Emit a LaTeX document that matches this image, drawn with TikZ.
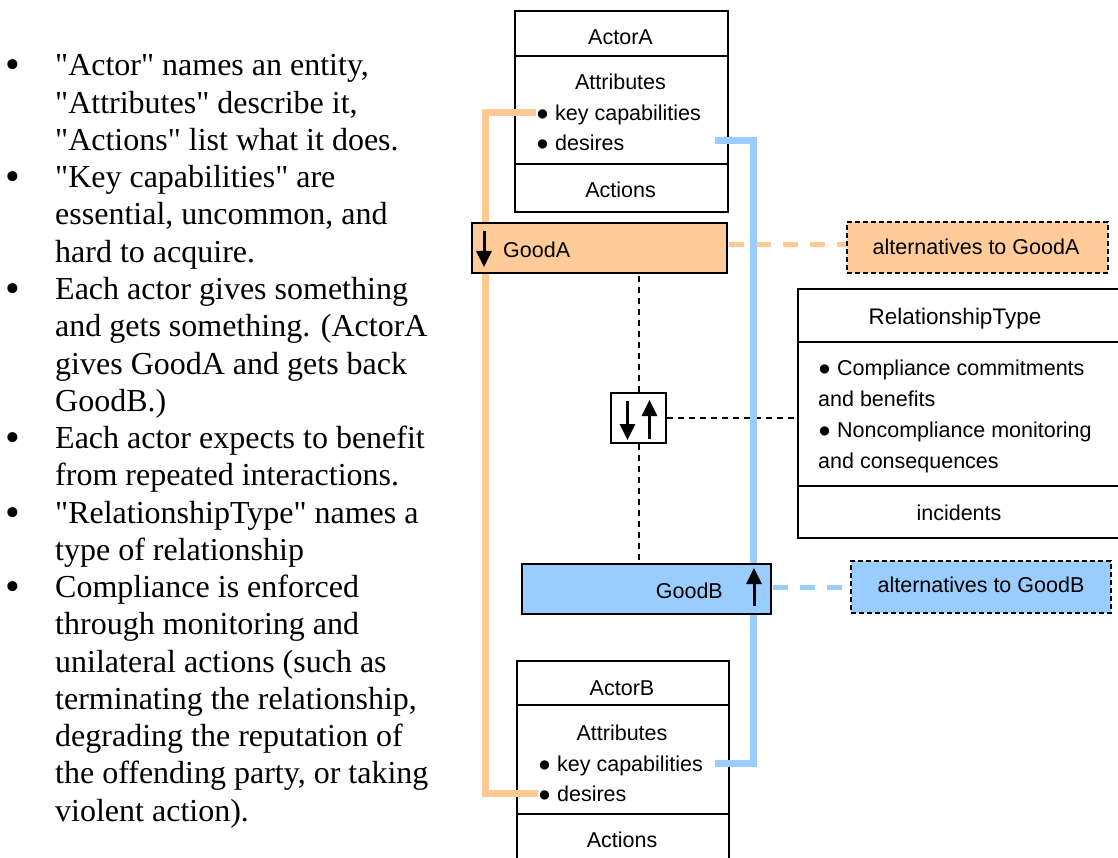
\documentclass[tikz,border=0pt]{standalone}
\usepackage{fontspec}
\setmainfont{Liberation Serif}[Ligatures=TeXOff]
\setsansfont{Liberation Sans}[Ligatures=TeXOff]
\usetikzlibrary{arrows.meta}
\definecolor{orng}{HTML}{FFCC99}
\definecolor{orngline}{HTML}{FFC993}
\definecolor{blu}{HTML}{99CCFF}
\begin{document}
\begin{tikzpicture}[x=1pt,y=-1pt,
  ltxt/.style={font=\fontsize{32}{37}\selectfont, anchor=base west, inner sep=0},
  lbul/.style={font=\fontsize{42}{37}\selectfont, anchor=base, inner sep=0},
  cell/.style={draw, line width=2pt, anchor=north west, inner sep=0},
  dtxt/.style={font=\sffamily\fontsize{21.5}{30}\selectfont, anchor=base, inner sep=0},
  dltxt/.style={dtxt, anchor=base west},
  rtxt/.style={font=\sffamily\fontsize{21.5}{31}\selectfont, anchor=base west, inner sep=0},
  goodbox/.style={draw, line width=2pt, anchor=north west, inner sep=0},
  altbox/.style={draw, line width=2pt, dash pattern=on 5pt off 3pt, anchor=north west, inner sep=0},
  blkdash/.style={draw, line width=2pt, dash pattern=on 6pt off 5pt},
  orngpath/.style={draw=orngline, line width=7pt},
  blupath/.style={draw=blu, line width=7pt},
  orngdash/.style={draw=orngline, line width=5pt, dash pattern=on 15pt off 12pt},
  bludash/.style={draw=blu, line width=5pt, dash pattern=on 15pt off 12pt},
  icon/.style={line width=3pt, -{Triangle[length=16pt,width=15pt]}}
]
\useasboundingbox (0,0) rectangle (1118,858);

% ---------- left text ----------
\node[lbul] (b1) at (13,79) {\textbullet};
\node[ltxt] (l1) at (55,76) {"Actor" names an entity,};
\node[ltxt] (l2) at (55,113.25) {"Attributes" describe it,};
\node[ltxt] (l3) at (55,150.5) {"Actions" list what it does.};
\node[lbul] (b2) at (13,190.75) {\textbullet};
\node[ltxt] (l4) at (55,187.75) {"Key capabilities" are};
\node[ltxt] (l5) at (55,225) {essential, uncommon, and};
\node[ltxt] (l6) at (55,262.25) {hard to acquire.};
\node[lbul] (b3) at (13,302.5) {\textbullet};
\node[ltxt] (l7) at (55,299.5) {Each actor gives something};
\node[ltxt] (l8) at (55,336.75) {and gets something. (ActorA};
\node[ltxt] (l9) at (55,374) {gives GoodA and gets back};
\node[ltxt] (l10) at (55,411.25) {GoodB.)};
\node[lbul] (b4) at (13,451.5) {\textbullet};
\node[ltxt] (l11) at (55,448.5) {Each actor expects to benefit};
\node[ltxt] (l12) at (55,485.75) {from repeated interactions.};
\node[lbul] (b5) at (13,526) {\textbullet};
\node[ltxt] (l13) at (55,523) {"RelationshipType" names a};
\node[ltxt] (l14) at (55,560.25) {type of relationship};
\node[lbul] (b6) at (13,600.5) {\textbullet};
\node[ltxt] (l15) at (55,597.5) {Compliance is enforced};
\node[ltxt] (l16) at (55,634.75) {through monitoring and};
\node[ltxt] (l17) at (55,672) {unilateral actions (such as};
\node[ltxt] (l18) at (55,709.25) {terminating the relationship,};
\node[ltxt] (l19) at (55,746.5) {degrading the reputation of};
\node[ltxt] (l20) at (55,783.75) {the offending party, or taking};
\node[ltxt] (l21) at (55,821) {violent action).};

% ---------- ActorA ----------
\node[cell, minimum width=213pt, minimum height=45pt] (aName) at (514,10) {};
\node[cell, minimum width=213pt, minimum height=108pt] (aAttr) at (514,55) {};
\node[cell, minimum width=213pt, minimum height=48pt] (aAct) at (514,163) {};
\node[dtxt] (aNameT) at (620.5,45) {ActorA};
\node[dtxt] (aAttrT) at (620.5,90) {Attributes};
\node[dltxt] (aKey) at (536,121) {● key capabilities};
\node[dltxt] (aDes) at (536,151) {● desires};
\node[dtxt] (aActT) at (620.5,198) {Actions};

% ---------- ActorB ----------
\node[cell, minimum width=212pt, minimum height=44pt] (bName) at (516,660) {};
\node[cell, minimum width=212pt, minimum height=109pt] (bAttr) at (516,704) {};
\node[cell, minimum width=212pt, minimum height=60pt] (bAct) at (516,813) {};
\node[dtxt] (bNameT) at (622,695) {ActorB};
\node[dtxt] (bAttrT) at (622,740) {Attributes};
\node[dltxt] (bKey) at (538,771) {● key capabilities};
\node[dltxt] (bDes) at (538,801) {● desires};
\node[dtxt] (bActT) at (622,847) {Actions};

% ---------- RelationshipType ----------
\node[cell, minimum width=325pt, minimum height=53pt] (rName) at (797,288) {};
\node[cell, minimum width=325pt, minimum height=144pt] (rBody) at (797,341) {};
\node[cell, minimum width=325pt, minimum height=52pt] (rInc) at (797,485) {};
\node[rtxt, anchor=base, font=\sffamily\fontsize{22.5}{31}\selectfont] (rNameT) at (955,324) {RelationshipType};
\node[rtxt] (r1) at (818,375) {● Compliance commitments};
\node[rtxt] (r2) at (818,406) {and benefits};
\node[rtxt] (r3) at (818,437) {● Noncompliance monitoring};
\node[rtxt] (r4) at (818,468) {and consequences};
\node[rtxt, anchor=base] (rIncT) at (959,520) {incidents};

% ---------- exchange symbol ----------
\node[cell, minimum width=55pt, minimum height=50pt] (sw) at (610,392) {};
\draw[icon] ([xshift=-11pt,yshift=17pt]sw.center) -- ([xshift=-11pt,yshift=-22pt]sw.center);
\draw[icon] ([xshift=11pt,yshift=-21pt]sw.center) -- ([xshift=11pt,yshift=18pt]sw.center);

% ---------- coordinates for the good boxes ----------
\coordinate (gAnw) at (471,222);
\coordinate (gBnw) at (521,563);

% ---------- dashed links (under) ----------
\path[blkdash] (sw.north) -- (sw.north |- 0,272);
\path[blkdash] (sw.south) -- (sw.south |- 0,563);
\path[blkdash] (sw.east) -- (sw.east -| rBody.west);

% ---------- colored flow lines ----------
\coordinate (bStart) at (715,141);
\coordinate (bEnd) at (715,763);
\path[orngpath] (aKey.west |- 0,113) -- (485,113) |- (bDes.west |- 0,793);
\path[blupath] (bStart) -- (753,141) |- (bEnd);

% ---------- goods ----------
\node[goodbox, fill=orng, minimum width=255pt, minimum height=50pt] (gA) at (gAnw) {};
\node[font=\sffamily\fontsize{21.5}{30}\selectfont, anchor=base west, inner sep=0] (gAT) at (503,257.5) {GoodA};
\draw[icon] (484,231) -- (484,267);

\node[goodbox, fill=blu, minimum width=249pt, minimum height=50pt] (gB) at (gBnw) {};
\node[font=\sffamily\fontsize{21.5}{30}\selectfont, anchor=base east, inner sep=0] (gBT) at (723,598) {GoodB};
\draw[icon] (754,606) -- (754,568);

% ---------- alternatives ----------
\node[altbox, fill=orng, minimum width=261pt, minimum height=51pt] (altA) at (846,221) {};
\node[dtxt] (altAT) at (976,254.5) {alternatives to GoodA};
\node[altbox, fill=blu, minimum width=260pt, minimum height=52pt] (altB) at (850,560) {};
\node[dtxt] (altBT) at (981,592.5) {alternatives to GoodB};

\path[orngdash] ([xshift=1pt]gA.east |- 0,245) -- (altA.west |- 0,245);
\path[bludash] ([xshift=1pt]gB.east |- 0,587) -- (altB.west |- 0,587);

% blue vertical over the orange dashed crossing
\path[blupath] (753,230) -- (753,262);
\end{tikzpicture}
\end{document}
